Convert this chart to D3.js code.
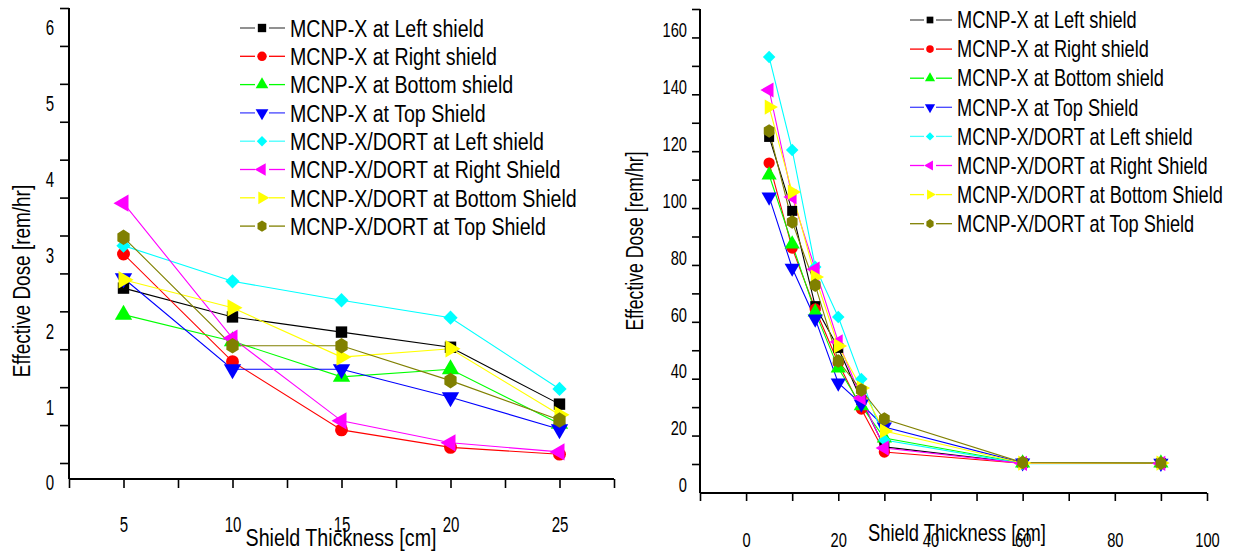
<!DOCTYPE html>
<html>
<head>
<meta charset="utf-8">
<script src="https://cdn.jsdelivr.net/npm/d3@7"></script>
<style>
  body { margin: 0; background: #fff; }
  text { font-family: "Liberation Sans", Arial, sans-serif; fill: #000; }
</style>
</head>
<body>
<script>
// series names, in legend order
const seriesNames = [
  "MCNP-X at Left shield",
  "MCNP-X at Right shield",
  "MCNP-X at Bottom shield",
  "MCNP-X at Top Shield",
  "MCNP-X/DORT at Left shield",
  "MCNP-X/DORT at Right Shield",
  "MCNP-X/DORT at Bottom Shield",
  "MCNP-X/DORT at Top Shield"
];

// left panel: thickness 5..25 cm
const leftThickness = [5, 10, 15, 20, 25];
const leftMcnpLeft    = [2.57, 2.19, 1.99, 1.79, 1.04];
const leftMcnpRight   = [3.02, 1.60, 0.70, 0.47, 0.38];
const leftMcnpBottom  = [2.22, 1.87, 1.40, 1.50, 0.78];
const leftMcnpTop     = [2.70, 1.50, 1.50, 1.13, 0.71];
const leftDortLeft    = [3.13, 2.66, 2.41, 2.18, 1.24];
const leftDortRight   = [3.69, 1.91, 0.82, 0.53, 0.41];
const leftDortBottom  = [2.68, 2.31, 1.66, 1.77, 0.90];
const leftDortTop     = [3.24, 1.81, 1.81, 1.35, 0.83];

// right panel: thickness 5..90 cm
const rightThickness = [5, 10, 15, 20, 25, 30, 60, 90];
const rightMcnpLeft   = [122.4, 96.4, 62.9, 48.2, 29.9, 13.4, 7.7, 7.7];
const rightMcnpRight  = [113.2, 83.3, 61.9, 42.9, 26.7, 11.6, 7.6, 7.6];
const rightMcnpBottom = [109.0, 84.7, 60.8, 41.1, 27.8, 16.5, 7.7, 7.7];
const rightMcnpTop    = [101.3, 76.3, 58.4, 35.9, 28.5, 20.4, 7.8, 7.7];
const rightDortLeft   = [150.5, 117.8, 76.7, 59.1, 37.3, 15.8, 7.5, 7.6];
const rightDortRight  = [138.9, 101.3, 75.9, 50.3, 30.6, 13.0, 7.6, 7.6];
const rightDortBottom = [132.9, 103.0, 73.1, 48.9, 34.1, 19.0, 7.7, 7.7];
const rightDortTop    = [124.5, 92.5, 70.3, 43.6, 33.4, 23.2, 7.9, 7.7];

const leftTickLabelsY = [0, 1, 2, 3, 4, 5, 6];
const leftTickLabelsX = [5, 10, 15, 20, 25];
const rightTickLabelsY = [0, 20, 40, 60, 80, 100, 120, 140, 160];
const rightTickLabelsX = [0, 20, 40, 60, 80, 100];

const colors = ["#000000", "#ff0000", "#00ff00", "#0000ff", "#00ffff", "#ff00ff", "#ffff00", "#808000"];
const legendLineColors = ["#555555", "#ff0000", "#00ff00", "#4444ff", "#44ffff", "#ff00ff", "#ffff00", "#808000"];

const hexagon = {
  draw(ctx, size) {
    const r = Math.sqrt(size / 2.598);
    for (let i = 0; i < 6; i++) {
      const a = Math.PI / 3 * i - Math.PI / 2;
      const px = r * Math.cos(a), py = r * Math.sin(a) * 1.1;
      if (i === 0) ctx.moveTo(px, py); else ctx.lineTo(px, py);
    }
    ctx.closePath();
  }
};
// [symbol type, rotation]
const symbols = [
  [d3.symbolSquare, 0], [d3.symbolCircle, 0], [d3.symbolTriangle, 0], [d3.symbolTriangle, 180],
  [d3.symbolDiamond2, 0], [d3.symbolTriangle, -90], [d3.symbolTriangle, 90], [hexagon, 0]
];

const width = 1235, height = 555;
const svg = d3.select("body").append("svg").attr("width", width).attr("height", height);

function drawPanel(p) {
  const x = d3.scaleLinear().domain(p.xDomain).range([p.left, p.right]);
  const y = d3.scaleLinear().domain(p.yDomain).range([p.yZero, p.yTop]);
  // tick marks sit a bit above the labels in the original
  const yTicks = y.copy().range([p.yZero - p.tickShift, p.yTop - p.tickShift]);

  const g = svg.append("g");

  // frame lines
  g.append("line").attr("x1", p.left).attr("x2", p.left)
    .attr("y1", yTicks(p.yDomain[1])).attr("y2", p.bottom)
    .attr("stroke", "#000").attr("stroke-width", 2);
  g.append("line").attr("x1", p.left).attr("x2", p.right)
    .attr("y1", p.bottom).attr("y2", p.bottom)
    .attr("stroke", "#000").attr("stroke-width", 2);

  const yAxis = g.append("g").attr("transform", `translate(${p.left},0)`)
    .call(d3.axisLeft(yTicks).tickValues(p.yTickMarks).tickFormat("").tickSize(p.tickLen).tickSizeOuter(0));
  yAxis.select(".domain").remove();
  yAxis.selectAll("line").attr("stroke-width", 1.6);

  const yLab = g.append("g").attr("transform", `translate(${p.left},0)`)
    .call(d3.axisLeft(y).tickValues(p.yLabels).tickFormat(d3.format("d")).tickSize(0));
  yLab.select(".domain").remove();
  yLab.selectAll("text").attr("font-family", null).style("font-size", p.tickFont + "px")
    .attr("x", -p.yLabelPad / p.tickSx).attr("transform", `scale(${p.tickSx},1)`);

  const xAxis = g.append("g").attr("transform", `translate(0,${p.bottom})`)
    .call(d3.axisBottom(x).tickValues(p.xTickMarks).tickFormat("").tickSize(p.tickLen).tickSizeOuter(0));
  xAxis.select(".domain").remove();
  xAxis.selectAll("line").attr("stroke-width", 1.6);

  const xLab = g.append("g").attr("transform", `translate(0,${p.bottom})`)
    .call(d3.axisBottom(x).tickValues(p.xLabels).tickSize(0).tickPadding(p.xLabelPad));
  xLab.select(".domain").remove();
  xLab.selectAll("text").attr("font-family", null).style("font-size", p.tickFont + "px")
    .attr("transform", `scale(${p.tickSx},1)`);

  // axis titles
  g.append("text").attr("transform", `translate(${p.xTitle[0]},${p.xTitle[1]}) scale(${p.xTitleSx},1)`)
    .attr("text-anchor", "middle").style("font-size", p.titleFont + "px")
    .text("Shield Thickness [cm]");
  g.append("text").attr("transform", `translate(${p.yTitle[0]},${p.yTitle[1]}) rotate(-90) scale(${p.yTitleSx},1)`)
    .attr("text-anchor", "middle").style("font-size", p.titleFont + "px")
    .text("Effective Dose [rem/hr]");

  const line = d3.line().x(d => x(d[0])).y(d => y(d[1]));

  p.series.forEach((vals, i) => {
    const pts = p.xs.map((xv, j) => [xv, vals[j]]);
    g.append("path").datum(pts).attr("d", line)
      .attr("fill", "none").attr("stroke", colors[i]).attr("stroke-width", 1.1);
  });
  p.series.forEach((vals, i) => {
    const pts = p.xs.map((xv, j) => [xv, vals[j]]);
    const sym = d3.symbol().type(symbols[i][0]).size(p.markSize);
    g.selectAll(null).data(pts).enter().append("path")
      .attr("transform", d => `translate(${x(d[0])},${y(d[1])}) rotate(${symbols[i][1]})`)
      .attr("d", sym).attr("fill", colors[i]);
  });

  // legend
  const L = p.legend;
  const lg = g.append("g");
  seriesNames.forEach((name, i) => {
    const ry = L.y + i * L.step;
    lg.append("line").attr("x1", L.x0).attr("x2", L.xm - L.gap)
      .attr("y1", ry).attr("y2", ry).attr("stroke", legendLineColors[i]).attr("stroke-width", 1.3);
    lg.append("line").attr("x1", L.xm + L.gap).attr("x2", L.x1)
      .attr("y1", ry).attr("y2", ry).attr("stroke", legendLineColors[i]).attr("stroke-width", 1.3);
    const sym = d3.symbol().type(symbols[i][0]).size(L.markSize);
    lg.append("path").attr("d", sym)
      .attr("transform", `translate(${L.xm},${ry}) rotate(${symbols[i][1]})`)
      .attr("fill", colors[i]);
    lg.append("text").attr("transform", `translate(${L.tx},${ry}) scale(${L.sx},1)`)
      .attr("dy", "0.36em").style("font-size", L.font + "px").text(name);
  });
}

drawPanel({
  xs: leftThickness,
  series: [leftMcnpLeft, leftMcnpRight, leftMcnpBottom, leftMcnpTop, leftDortLeft, leftDortRight, leftDortBottom, leftDortTop],
  xDomain: [2.5, 27.5], left: 69, right: 614, bottom: 479,
  yDomain: [0, 6], yZero: 483, yTop: 28, tickShift: 20,
  yTickMarks: d3.range(0, 6.01, 0.5), yLabels: leftTickLabelsY,
  xTickMarks: d3.range(2.5, 27.6, 2.5), xLabels: leftTickLabelsX,
  tickLen: 9, yLabelPad: 15, xLabelPad: 38, tickFont: 21.5, tickSx: 0.7,
  titleFont: 24, xTitleSx: 0.82, yTitleSx: 0.79,
  xTitle: [341, 546], yTitle: [30, 281],
  markSize: 130,
  legend: { y: 28, step: 28.3, x0: 240, x1: 285, xm: 262, gap: 7, tx: 290, font: 24.5, sx: 0.8, markSize: 70 }
});

drawPanel({
  xs: rightThickness,
  series: [rightMcnpLeft, rightMcnpRight, rightMcnpBottom, rightMcnpTop, rightDortLeft, rightDortRight, rightDortBottom, rightDortTop],
  xDomain: [-10, 100], left: 700, right: 1207, bottom: 493,
  yDomain: [0, 160], yZero: 485, yTop: 30, tickShift: 21,
  yTickMarks: d3.range(0, 161, 10), yLabels: rightTickLabelsY,
  xTickMarks: d3.range(-10, 101, 10), xLabels: rightTickLabelsX,
  tickLen: 8, yLabelPad: 13, xLabelPad: 39, tickFont: 21, tickSx: 0.7,
  titleFont: 23.5, xTitleSx: 0.78, yTitleSx: 0.75,
  xTitle: [957, 541], yTitle: [643, 241],
  markSize: 100,
  legend: { y: 20, step: 29.1, x0: 910, x1: 952, xm: 930, gap: 6, tx: 957, font: 23, sx: 0.79, markSize: 45 }
});
</script>
</body>
</html>
